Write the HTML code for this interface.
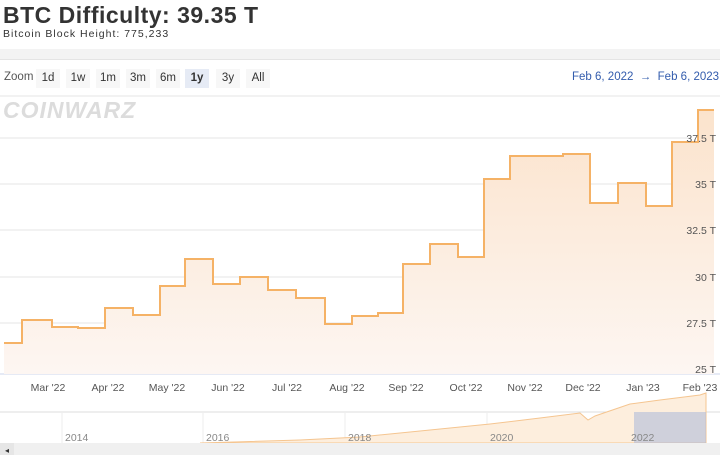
<!DOCTYPE html><html><head><style>
body{margin:0;width:720px;height:470px;background:#fff;font-family:"Liberation Sans",sans-serif;overflow:hidden;position:relative}
.t{position:absolute;left:3px;top:2px;font-size:23px;font-weight:bold;color:#333;letter-spacing:0.5px}
.s{position:absolute;left:3px;top:28px;font-size:10.5px;color:#333;letter-spacing:1px}
.bar{position:absolute;left:0;top:49px;width:720px;height:10px;background:#f3f3f3;border-bottom:1px solid #e4e4e4}
.b{position:absolute;top:69px;height:19px;line-height:19px;font-size:11.5px;color:#333;background:#f7f7f7;text-align:center;width:24px}
</style></head><body>
<div class="t">BTC Difficulty: 39.35 T</div>
<div class="s">Bitcoin Block Height: 775,233</div>
<div class="bar"></div>
<div style="position:absolute;left:4px;top:71px;font-size:11.5px;color:#555">Zoom</div>
<div class="b" style="left:36px">1d</div><div class="b" style="left:66px">1w</div><div class="b" style="left:96px">1m</div><div class="b" style="left:126px">3m</div><div class="b" style="left:156px">6m</div><div class="b" style="left:185px;background:#e6ebf5;font-weight:bold">1y</div><div class="b" style="left:216px">3y</div><div class="b" style="left:246px">All</div>
<div style="position:absolute;left:572px;top:71px;font-size:11.5px;color:#335cad">Feb 6, 2022 &nbsp;→&nbsp; Feb 6, 2023</div>
<div style="position:absolute;left:3px;top:97px;font-size:23px;font-weight:900;color:#dcdcdc;font-style:italic;letter-spacing:1px">COINWARZ</div>
<svg width="720" height="470" style="position:absolute;left:0;top:0">
<defs><linearGradient id="g" x1="0" y1="0" x2="0" y2="1"><stop offset="0" stop-color="#fbe3cc"/><stop offset="1" stop-color="#fdf6f2"/></linearGradient></defs>
<line x1="0" y1="96" x2="720" y2="96" stroke="#e6e6e6"/>
<g stroke="#e6e6e6"><line x1="0" y1="138" x2="690" y2="138"/><line x1="0" y1="184" x2="690" y2="184"/><line x1="0" y1="230" x2="690" y2="230"/><line x1="0" y1="277" x2="690" y2="277"/><line x1="0" y1="323" x2="690" y2="323"/><line x1="0" y1="374" x2="720" y2="374" stroke="#ccd6eb"/></g>
<path d="M4,343H22V320H52V327H78V328H105V308H133V315H160V286H185V259H213V284H240V277H268V290H296V298H325V324H352V316H378V313H403V264H430V244H458V257H484V179H510V156H563V154H590V203H618V183H646V206H672V142H698V110H714V374H4Z" fill="url(#g)"/>
<path d="M4,343H22V320H52V327H78V328H105V308H133V315H160V286H185V259H213V284H240V277H268V290H296V298H325V324H352V316H378V313H403V264H430V244H458V257H484V179H510V156H563V154H590V203H618V183H646V206H672V142H698V110H714" fill="none" stroke="#f5b266" stroke-width="2"/>
<g font-size="10.5" fill="#555" text-anchor="end"><text x="716" y="142">37.5 T</text><text x="716" y="188">35 T</text><text x="716" y="234">32.5 T</text><text x="716" y="281">30 T</text><text x="716" y="327">27.5 T</text><text x="716" y="373">25 T</text></g>
<g font-size="10.5" fill="#555" text-anchor="middle"><text x="48" y="391">Mar '22</text><text x="108" y="391">Apr '22</text><text x="167" y="391">May '22</text><text x="228" y="391">Jun '22</text><text x="287" y="391">Jul '22</text><text x="347" y="391">Aug '22</text><text x="406" y="391">Sep '22</text><text x="466" y="391">Oct '22</text><text x="525" y="391">Nov '22</text><text x="583" y="391">Dec '22</text><text x="643" y="391">Jan '23</text><text x="700" y="391">Feb '23</text></g>
<line x1="0" y1="412" x2="720" y2="412" stroke="#ddd"/>
<g stroke="#eee"><line x1="62" y1="412" x2="62" y2="443"/><line x1="203" y1="412" x2="203" y2="443"/><line x1="345" y1="412" x2="345" y2="443"/><line x1="487" y1="412" x2="487" y2="443"/><line x1="628" y1="412" x2="628" y2="443"/></g>
<path d="M200,443L300,440L360,437L400,433L450,428L490,424L540,418L580,413L588,420L595,416L630,404L660,400L700,395L706,393V443H200Z" fill="#fdeedd" stroke="#f5c590"/>
<rect x="634" y="412" width="72" height="31" fill="#b0bddb" opacity="0.6"/>
<g font-size="10.5" fill="#888"><text x="65" y="441">2014</text><text x="206" y="441">2016</text><text x="348" y="441">2018</text><text x="490" y="441">2020</text><text x="631" y="441">2022</text></g>
<rect x="0" y="443" width="720" height="12" fill="#f0f0f0"/><rect x="0" y="443" width="14" height="12" fill="#e6e6e6"/>
<text x="5" y="453" font-size="8" fill="#333">◂</text>
</svg>
</body></html>
